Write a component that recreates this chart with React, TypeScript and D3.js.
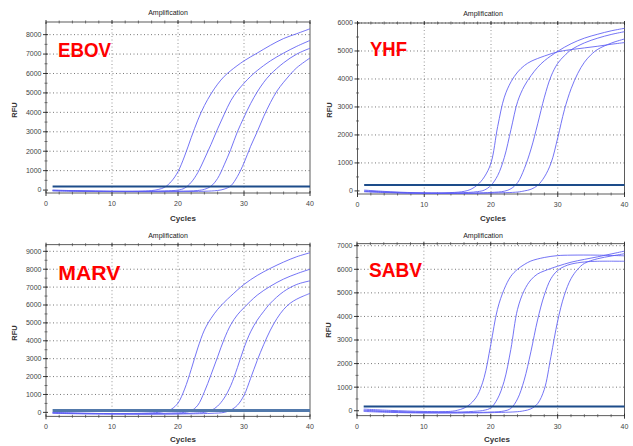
import React from "react";
import * as d3 from "d3";

// qPCR amplification plots, four assays
const cycleTicks = [0, 10, 20, 30, 40];
const ebovTicks = [0, 1000, 2000, 3000, 4000, 5000, 6000, 7000, 8000];
const yhfTicks = [0, 1000, 2000, 3000, 4000, 5000, 6000];
const marvTicks = [0, 1000, 2000, 3000, 4000, 5000, 6000, 7000, 8000, 9000];
const sabvTicks = [0, 1000, 2000, 3000, 4000, 5000, 6000, 7000];

const virusNames = ["EBOV", "YHF", "MARV", "SABV"];
const thresholds = [180, 210, 110, 180];

// [cycle, RFU]
const ebovCurves = [
  [[1,-10],[5,-40],[10,-60],[14,-55],[16,-25],[17,30],[18,150],[19,450],[20,950],[21,1750],[22,2700],[23,3600],[24,4350],[25,4950],[26,5450],[27,5850],[28,6150],[30,6650],[32,7050],[34,7450],[36,7800],[38,8050],[40,8300]],
  [[1,-30],[5,-50],[10,-70],[15,-65],[18,-40],[20,0],[21,100],[22,400],[23,900],[24,1600],[25,2350],[26,3150],[27,3900],[28,4600],[29,5100],[30,5500],[31,5850],[32,6150],[34,6650],[36,7050],[38,7400],[40,7700]],
  [[1,0],[5,-35],[10,-60],[15,-70],[20,-55],[23,-20],[24,40],[25,200],[26,600],[27,1300],[28,2100],[29,3000],[30,3750],[31,4450],[32,5050],[33,5550],[34,5950],[36,6550],[38,7000],[40,7300]],
  [[1,-40],[5,-65],[10,-80],[15,-85],[20,-80],[24,-60],[26,-20],[27,50],[28,220],[29,700],[30,1400],[31,2250],[32,3000],[33,3800],[34,4500],[35,5100],[36,5550],[37,5950],[38,6300],[40,6800]],
];

const yhfCurves = [
  [[1,30],[5,-30],[10,-70],[14,-60],[16,-15],[17,60],[18,220],[19,500],[20,1000],[21,2300],[22,3350],[23,3900],[24,4250],[25,4480],[26,4630],[28,4820],[30,4970],[32,5050],[34,5110],[36,5170],[38,5240],[40,5300]],
  [[1,0],[5,-45],[10,-75],[15,-70],[18,-25],[19,30],[20,200],[21,550],[22,1200],[23,2200],[24,3200],[25,3750],[26,4120],[27,4420],[28,4650],[30,4990],[32,5260],[34,5460],[36,5600],[38,5720],[40,5810]],
  [[1,-15],[5,-55],[10,-85],[15,-85],[20,-55],[22,-10],[23,80],[24,300],[25,800],[26,1500],[27,2400],[28,3350],[29,4100],[30,4560],[31,4830],[32,5040],[34,5290],[36,5460],[38,5590],[40,5690]],
  [[1,-30],[5,-65],[10,-90],[15,-90],[20,-75],[24,-40],[25,0],[26,60],[27,200],[28,500],[29,1000],[30,1900],[31,2900],[32,3650],[33,4200],[34,4600],[35,4870],[36,5060],[38,5280],[40,5430]],
];

const marvCurves = [
  [[1,-20],[5,-50],[10,-65],[15,-45],[17,0],[18,60],[19,180],[20,520],[21,1300],[22,2400],[23,3600],[24,4600],[25,5250],[26,5750],[27,6150],[28,6500],[30,7150],[32,7650],[34,8050],[36,8400],[38,8700],[40,8920]],
  [[1,-35],[5,-65],[10,-80],[15,-75],[19,-40],[21,0],[22,90],[23,400],[24,1150],[25,2100],[26,3100],[27,4100],[28,4900],[29,5450],[30,5850],[32,6550],[34,7050],[36,7450],[38,7750],[40,8000]],
  [[1,-10],[5,-45],[10,-75],[15,-90],[20,-75],[23,-30],[24,0],[25,100],[26,350],[27,800],[28,1500],[29,2500],[30,3600],[31,4500],[32,5150],[33,5650],[34,6100],[36,6750],[38,7150],[40,7350]],
  [[1,-50],[5,-80],[10,-95],[15,-95],[20,-90],[25,-55],[27,0],[28,130],[29,400],[30,950],[31,1900],[32,2900],[33,3800],[34,4600],[35,5250],[36,5750],[37,6100],[38,6330],[39,6500],[40,6650]],
];

const sabvCurves = [
  [[1,70],[5,15],[10,-30],[14,-25],[15,20],[16,110],[17,300],[18,650],[19,1400],[20,2800],[21,4300],[22,5150],[23,5700],[24,6000],[25,6200],[26,6350],[28,6500],[30,6580],[32,6600],[36,6600],[40,6570]],
  [[1,25],[5,-25],[10,-60],[15,-55],[18,-15],[19,20],[20,120],[21,500],[22,1250],[23,2600],[24,4300],[25,5100],[26,5550],[27,5800],[28,5930],[30,6130],[32,6300],[34,6420],[36,6530],[38,6650],[40,6770]],
  [[1,0],[5,-45],[10,-80],[15,-80],[20,-55],[22,-10],[23,100],[24,500],[25,1300],[26,2500],[27,3850],[28,4900],[29,5600],[30,5950],[31,6120],[32,6220],[34,6310],[36,6340],[40,6340]],
  [[1,-30],[5,-70],[10,-95],[15,-95],[20,-80],[24,-40],[25,0],[26,80],[27,300],[28,900],[29,2300],[30,3800],[31,4900],[32,5600],[33,6000],[34,6250],[36,6450],[38,6560],[40,6660]],
];

const allCurves = [ebovCurves, yhfCurves, marvCurves, sabvCurves];
const allTicks = [ebovTicks, yhfTicks, marvTicks, sabvTicks];

// layout of each panel (pixels)
const layout = [
  { left: 46, right: 310, top: 22, bottom: 193, yLo: -150, yHi: 8650, titleX: 168, titleY: 15, cycX: 183, cycY: 221, rfuX: 14, rfuY: 110, nameX: 58, nameY: 57, nameW: 53, thrW: 2, thrColor: "#1d4c8a" },
  { left: 357.5, right: 624.5, top: 23, bottom: 194, yLo: -110, yHi: 6000, titleX: 483, titleY: 15.5, cycX: 493, cycY: 221, rfuX: 329, rfuY: 110, nameX: 370, nameY: 56, nameW: 37, thrW: 2, thrColor: "#1d4c8a" },
  { left: 46, right: 310, top: 244.7, bottom: 416.3, yLo: -220, yHi: 9370, titleX: 168, titleY: 238, cycX: 183, cycY: 442, rfuX: 14, rfuY: 333, nameX: 58.3, nameY: 280, nameW: 62, thrW: 3, thrColor: "#5279ab" },
  { left: 357, right: 624.5, top: 243.7, bottom: 415.7, yLo: -210, yHi: 7085, titleX: 483, titleY: 237.5, cycX: 497, cycY: 441.5, rfuX: 328, rfuY: 330, nameX: 369, nameY: 276.5, nameW: 53, thrW: 2, thrColor: "#1d4c8a" },
];

const small = "'Liberation Sans', Arial, sans-serif";

function Panel({ idx }) {
  const L = layout[idx];
  const ticks = allTicks[idx];
  const curves = allCurves[idx];
  const x = d3.scaleLinear().domain([0, 40]).range([L.left, L.right]);
  const y = d3.scaleLinear().domain([L.yLo, L.yHi]).range([L.bottom, L.top]);
  const line = d3
    .line()
    .x((d) => x(d[0]))
    .y((d) => y(d[1]))
    .curve(d3.curveCatmullRom.alpha(0.5));

  const minorY = d3.range(500, ticks[ticks.length - 1] + 1, 1000);
  const minorX = d3.range(2, 40, 2).filter((c) => c % 10 !== 0);

  return (
    <g>
      {/* grid */}
      {cycleTicks.slice(1, 4).map((c) => (
        <line key={"gx" + c} x1={x(c)} x2={x(c)} y1={L.top} y2={L.bottom}
          stroke="#8a8a8a" strokeWidth={0.9} strokeDasharray="1,2.5" />
      ))}
      {ticks.slice(1).map((t) => (
        <line key={"gy" + t} x1={L.left} x2={L.right} y1={y(t)} y2={y(t)}
          stroke="#6a6a6a" strokeWidth={0.9} strokeDasharray="1,2.5" />
      ))}

      {/* frame */}
      <rect x={L.left} y={L.top} width={L.right - L.left} height={L.bottom - L.top}
        fill="none" stroke="#333" strokeWidth={0.8} />

      {/* y ticks */}
      {ticks.map((t) => (
        <g key={"ty" + t}>
          <line x1={L.left - 3} x2={L.left + 2} y1={y(t)} y2={y(t)} stroke="#222" strokeWidth={0.9} />
          <text x={L.left - 4.5} y={y(t) + 2.4} textAnchor="end" fontSize={7} fill="#444" fontFamily={small}>
            {t}
          </text>
        </g>
      ))}
      {minorY.map((t) => (
        <line key={"my" + t} x1={L.left - 1.5} x2={L.left + 1.5} y1={y(t)} y2={y(t)} stroke="#444" strokeWidth={0.7} />
      ))}

      {/* x ticks */}
      {cycleTicks.map((c) => (
        <g key={"tx" + c}>
          <line x1={x(c)} x2={x(c)} y1={L.bottom - 2} y2={L.bottom + 3} stroke="#222" strokeWidth={0.9} />
          <line x1={x(c)} x2={x(c)} y1={L.top - 2} y2={L.top + 2} stroke="#222" strokeWidth={0.9} />
          <text x={x(c)} y={L.bottom + 13} textAnchor="middle" fontSize={7} fill="#444" fontFamily={small}>
            {c}
          </text>
        </g>
      ))}
      {minorX.map((c) => (
        <g key={"mx" + c}>
          <line x1={x(c)} x2={x(c)} y1={L.bottom - 1.5} y2={L.bottom + 1.5} stroke="#444" strokeWidth={0.7} />
          <line x1={x(c)} x2={x(c)} y1={L.top - 1.5} y2={L.top + 1.5} stroke="#444" strokeWidth={0.7} />
        </g>
      ))}

      {/* curves */}
      {curves.map((c, i) => (
        <path key={"c" + i} d={line(c)} fill="none" stroke="#5c5cf3" strokeOpacity={0.85} strokeWidth={1} />
      ))}

      {/* threshold */}
      <line x1={x(1)} x2={x(40)} y1={y(thresholds[idx])} y2={y(thresholds[idx])}
        stroke={L.thrColor} strokeWidth={L.thrW} />

      {/* labels */}
      <text x={L.titleX} y={L.titleY} textAnchor="middle" fontSize={7} fill="#222" fontFamily={small}>
        Amplification
      </text>
      <text x={L.cycX} y={L.cycY} textAnchor="middle" fontSize={8} fontWeight="bold" fill="#333" fontFamily={small}>
        Cycles
      </text>
      <text transform={`translate(${L.rfuX},${L.rfuY}) rotate(-90)`} textAnchor="middle" dy="0.35em"
        fontSize={7.5} fontWeight="bold" fill="#333" fontFamily={small}>
        RFU
      </text>
      <text x={L.nameX} y={L.nameY} fontSize={21} fontWeight="bold" fill="#ff0000"
        fontFamily={small} textLength={L.nameW} lengthAdjust="spacingAndGlyphs">
        {virusNames[idx]}
      </text>
    </g>
  );
}

export default function App() {
  return (
    <svg width={633} height={446} style={{ position: "absolute", left: 0, top: 0, background: "#fff" }}>
      <rect width={633} height={446} fill="#fff" />
      {[0, 1, 2, 3].map((i) => (
        <Panel key={i} idx={i} />
      ))}
    </svg>
  );
}
